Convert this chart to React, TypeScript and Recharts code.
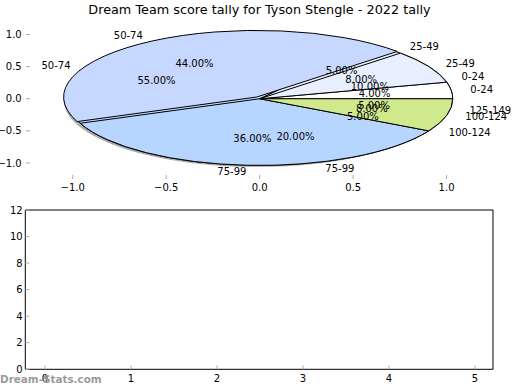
import React from "react";
import { PieChart, Pie, Cell, ComposedChart, Line, XAxis, YAxis } from "recharts";

// score bands, two tallies drawn on top of each other
const categories = ["0-24", "25-49", "50-74", "75-99", "100-124", "125-149"];
const tallyTop = [4, 8, 44, 36, 8];
const tallyBack = [10, 5, 55, 20, 5, 5];
const sliceColors = ["#ffffff", "#e8efff", "#c6d8ff", "#b6d6ff", "#d0e98c", "#f2f9e0"];
const explodeTop = [0, 0, 0.03, 0, 0];

const pieXTicks = [-1, -0.5, 0, 0.5, 1];
const pieYTicks = [-1, -0.5, 0, 0.5, 1];
const lowerXTicks = [0, 1, 2, 3, 4, 5];
const lowerYTicks = [0, 2, 4, 6, 8, 10, 12];

const FONT = "DejaVu Sans";
const RAD = Math.PI / 180;
const CX = 259.7;
const CY = 98.75;
const R = 193;
const K = 0.3454;
const TICK = "#aaaaaa";

const toRows = (vals: number[]) => vals.map((v, i) => ({ name: categories[i], value: v }));
// rows with no y value: they only give the empty axes something to hang on
const emptyRows = (xs: number[]) => xs.map((x) => ({ x, y: null }));

const fmtAxis = (v: number) => (v < 0 ? "\u2212" : "") + Math.abs(v).toFixed(1);

const squash = `translate(0px, ${CY}px) scale(1, ${K}) translate(0px, ${-CY}px)`;

function explodeShift(vals: number[], explode: number[], i: number) {
  const total = vals.reduce((a, b) => a + b, 0);
  const before = vals.slice(0, i).reduce((a, b) => a + b, 0);
  const mid = ((before + vals[i] / 2) / total) * 360 * RAD;
  const e = explode[i] * R;
  return { dx: e * Math.cos(mid), dy: -e * K * Math.sin(mid) };
}

function makeLabel(vals: number[], explode: number[]) {
  const total = vals.reduce((a, b) => a + b, 0);
  return (props: any) => {
    const { midAngle, index } = props;
    const c = Math.cos(midAngle * RAD);
    const s = Math.sin(midAngle * RAD);
    const e = (explode[index] || 0) * R;
    const ox = e * c;
    const oy = -e * K * s;
    return (
      <g key={`lbl-${index}`}>
        <text
          x={CX + ox + 1.1 * R * c}
          y={CY + oy - 1.1 * R * K * s}
          textAnchor={c >= 0 ? "start" : "end"}
          dominantBaseline="central"
          fontFamily={FONT}
          fontSize={10}
          fill="#000"
        >
          {categories[index]}
        </text>
        <text
          x={CX + ox + 0.6 * R * c}
          y={CY + oy - 0.6 * R * K * s}
          textAnchor="middle"
          dominantBaseline="central"
          fontFamily={FONT}
          fontSize={10}
          fill="#000"
        >
          {((vals[index] / total) * 100).toFixed(2)}%
        </text>
      </g>
    );
  };
}

export default function App() {
  const shift = explodeShift(tallyTop, explodeTop, 2);
  const css = `
    .ellipse-pie .recharts-sector { transform: ${squash}; vector-effect: non-scaling-stroke; }
    .ellipse-pie .recharts-sector.explode { transform: translate(${shift.dx}px, ${shift.dy}px) ${squash}; }
    .ellipse-pie .recharts-sector.shadow { transform: translate(-3px, 1.5px) ${squash}; }
  `;
  const tickStyle = { fontSize: 10, fill: "#000", fontFamily: FONT };

  return (
    <div style={{ position: "absolute", left: 0, top: 0, width: 520, height: 390, background: "#fff" }}>
      <style>{css}</style>

      {/* pie axes ticks */}
      <div style={{ position: "absolute", left: 0, top: 0 }}>
        <ComposedChart
          width={520}
          height={200}
          data={emptyRows(pieXTicks)}
          margin={{ top: 17.5, bottom: 20, left: 25, right: 25.7 }}
        >
          <XAxis
            xAxisId="b"
            type="number"
            dataKey="x"
            domain={[-1.25, 1.25]}
            allowDataOverflow
            ticks={pieXTicks}
            interval={0}
            height={1}
            axisLine={false}
            tickSize={-4}
            tickMargin={8.7}
            tickLine={{ stroke: TICK }}
            tick={tickStyle}
            tickFormatter={fmtAxis}
          />
          <XAxis
            xAxisId="t"
            orientation="top"
            type="number"
            dataKey="x"
            domain={[-1.25, 1.25]}
            allowDataOverflow
            ticks={pieXTicks}
            interval={0}
            height={1}
            axisLine={false}
            tickSize={-4}
            tickLine={{ stroke: TICK }}
            tick={false}
          />
          <YAxis
            yAxisId="l"
            type="number"
            dataKey="y"
            domain={[-1.25, 1.25]}
            allowDataOverflow
            ticks={pieYTicks}
            interval={0}
            width={1}
            axisLine={false}
            tickSize={-4}
            tickMargin={8.3}
            tickLine={{ stroke: TICK }}
            tick={tickStyle}
            tickFormatter={fmtAxis}
          />
          <YAxis
            yAxisId="r"
            orientation="right"
            type="number"
            dataKey="y"
            domain={[-1.25, 1.25]}
            allowDataOverflow
            ticks={pieYTicks}
            interval={0}
            width={1}
            axisLine={false}
            tickSize={-4}
            tickLine={{ stroke: TICK }}
            tick={false}
          />
          <Line xAxisId="b" yAxisId="l" dataKey="y" stroke="none" dot={false} isAnimationActive={false} />
        </ComposedChart>
      </div>

      {/* the two squashed pies */}
      <div className="ellipse-pie" style={{ position: "absolute", left: 0, top: 0 }}>
        <PieChart width={520} height={200} margin={{ top: 0, right: 0, bottom: 0, left: 0 }}>
          <Pie
            data={toRows(tallyBack)}
            dataKey="value"
            nameKey="name"
            cx={CX}
            cy={CY}
            outerRadius={R}
            startAngle={0}
            endAngle={360}
            stroke="none"
            label={false}
            labelLine={false}
            isAnimationActive={false}
          >
            {tallyBack.map((_, i) => (
              <Cell key={`sh-${i}`} className="shadow" fill="#8a8a8a" fillOpacity={0.7} />
            ))}
          </Pie>
          <Pie
            data={toRows(tallyBack)}
            dataKey="value"
            nameKey="name"
            cx={CX}
            cy={CY}
            outerRadius={R}
            startAngle={0}
            endAngle={360}
            stroke="#000"
            strokeWidth={1}
            label={makeLabel(tallyBack, [])}
            labelLine={false}
            isAnimationActive={false}
          >
            {tallyBack.map((_, i) => (
              <Cell key={`b-${i}`} fill={sliceColors[i]} />
            ))}
          </Pie>
          <Pie
            data={toRows(tallyTop)}
            dataKey="value"
            nameKey="name"
            cx={CX}
            cy={CY}
            outerRadius={R}
            startAngle={0}
            endAngle={360}
            stroke="#000"
            strokeWidth={1}
            label={makeLabel(tallyTop, explodeTop)}
            labelLine={false}
            isAnimationActive={false}
          >
            {tallyTop.map((_, i) => (
              <Cell key={`t-${i}`} className={explodeTop[i] ? "explode" : ""} fill={sliceColors[i]} />
            ))}
          </Pie>
        </PieChart>
      </div>

      {/* lower, empty axes */}
      <div style={{ position: "absolute", left: 0, top: 200 }}>
        <ComposedChart
          width={520}
          height={190}
          data={emptyRows(lowerXTicks)}
          margin={{ top: 9, bottom: 19.7, left: 24.3, right: 26 }}
        >
          <XAxis
            xAxisId="b"
            type="number"
            dataKey="x"
            domain={[-0.229, 5.209]}
            allowDataOverflow
            ticks={lowerXTicks}
            interval={0}
            height={1}
            axisLine={{ stroke: "#000" }}
            tickSize={-4}
            tickMargin={9.7}
            tickLine={{ stroke: TICK }}
            tick={tickStyle}
          />
          <XAxis
            xAxisId="t"
            orientation="top"
            type="number"
            dataKey="x"
            domain={[-0.229, 5.209]}
            allowDataOverflow
            ticks={lowerXTicks}
            interval={0}
            height={1}
            axisLine={{ stroke: "#000" }}
            tickSize={-4}
            tickLine={{ stroke: TICK }}
            tick={false}
          />
          <YAxis
            yAxisId="l"
            type="number"
            dataKey="y"
            domain={[0, 12]}
            allowDataOverflow
            ticks={lowerYTicks}
            interval={0}
            width={1}
            axisLine={{ stroke: "#000" }}
            tickSize={-4}
            tickMargin={6.6}
            tickLine={{ stroke: TICK }}
            tick={tickStyle}
          />
          <YAxis
            yAxisId="r"
            orientation="right"
            type="number"
            dataKey="y"
            domain={[0, 12]}
            allowDataOverflow
            ticks={lowerYTicks}
            interval={0}
            width={1}
            axisLine={{ stroke: "#000" }}
            tickSize={-4}
            tickLine={{ stroke: TICK }}
            tick={false}
          />
          <Line xAxisId="b" yAxisId="l" dataKey="y" stroke="none" dot={false} isAnimationActive={false} />
        </ComposedChart>
      </div>

      {/* title and watermark */}
      <svg width={520} height={390} style={{ position: "absolute", left: 0, top: 0, pointerEvents: "none" }}>
        <text x={259.5} y={14} textAnchor="middle" fontFamily={FONT} fontSize={12.8} fill="#000">
          Dream Team score tally for Tyson Stengle - 2022 tally
        </text>
        <text x={0} y={383} fontFamily={FONT} fontWeight="bold" fontSize={10.4} fill="#9a9a9a">
          Dream-Stats.com
        </text>
      </svg>
    </div>
  );
}
